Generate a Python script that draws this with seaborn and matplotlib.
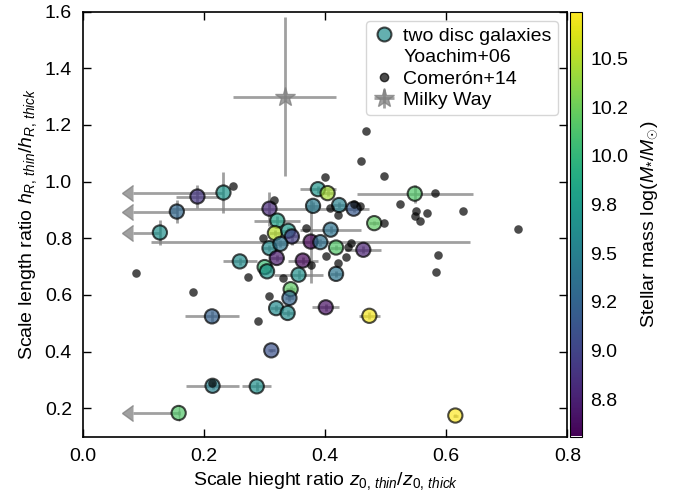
import matplotlib
matplotlib.use('Agg')
import numpy as np
import seaborn as sns
from matplotlib import pyplot as plt
from matplotlib.lines import Line2D
from matplotlib.ticker import FormatStrFormatter
from matplotlib.cm import ScalarMappable
from matplotlib.colors import Normalize

# two disc galaxies (this work)
disc_x = [0.259, 0.232, 0.189, 0.155, 0.127, 0.213, 0.214, 0.287, 0.158, 0.311,
          0.319, 0.338, 0.343, 0.341, 0.401, 0.473, 0.615, 0.388, 0.404, 0.548,
          0.308, 0.380, 0.423, 0.447, 0.481, 0.409, 0.321, 0.317, 0.339, 0.345,
          0.376, 0.392, 0.418, 0.463, 0.308, 0.326, 0.320, 0.363, 0.356, 0.418,
          0.300, 0.304]
disc_y = [0.718, 0.961, 0.947, 0.894, 0.820, 0.524, 0.279, 0.277, 0.183, 0.404,
          0.553, 0.536, 0.620, 0.589, 0.556, 0.526, 0.174, 0.973, 0.959, 0.957,
          0.904, 0.914, 0.917, 0.904, 0.853, 0.830, 0.862, 0.818, 0.826, 0.806,
          0.788, 0.786, 0.767, 0.759, 0.765, 0.780, 0.730, 0.721, 0.671, 0.674,
          0.698, 0.683]
disc_xerr = [0.028, 0.149, 0.036, 0.072, 0.044, 0.044, 0.044, 0.024, 0.075, 0.006,
             0.010, 0.010, 0.008, 0.008, 0.022, 0.017, 0.004, 0.030, 0.010, 0.096,
             0.165, 0.012, 0.012, 0.012, 0.008, 0.051, 0.038, 0.010, 0.010, 0.010,
             0.264, 0.012, 0.010, 0.030, 0.012, 0.012, 0.012, 0.025, 0.041, 0.010,
             0.010, 0.010]
disc_yerr = [0.012, 0.073, 0.041, 0.041, 0.044, 0.020, 0.012, 0.015, 0.008, 0.006,
             0.010, 0.010, 0.010, 0.010, 0.012, 0.012, 0.004, 0.012, 0.010, 0.032,
             0.060, 0.012, 0.012, 0.012, 0.006, 0.012, 0.015, 0.010, 0.012, 0.030,
             0.145, 0.012, 0.010, 0.012, 0.012, 0.012, 0.012, 0.012, 0.015, 0.010,
             0.010, 0.010]
disc_mass = [9.62, 9.70, 8.90, 9.28, 9.65, 9.22, 9.50, 9.65, 10.15, 9.10,
             9.60, 9.62, 10.20, 9.25, 8.65, 10.70, 10.74, 9.70, 10.45, 10.15,
             8.80, 9.45, 9.50, 9.15, 10.20, 9.38, 9.80, 10.50, 9.75, 8.95,
             8.56, 9.35, 10.15, 8.75, 9.60, 9.40, 8.70, 8.60, 9.65, 9.40,
             10.05, 9.70]
# upper limits on the scale height ratio
disc_uplim = [0, 1, 0, 1, 1, 0, 0, 0, 1, 0,
              0, 0, 0, 0, 0, 0, 0, 0, 0, 0,
              0, 0, 0, 0, 0, 0, 0, 0, 0, 0,
              0, 0, 0, 0, 0, 0, 0, 0, 0, 0,
              0, 0]

yoachim_x = [0.088, 0.182, 0.248, 0.272, 0.289, 0.308, 0.315, 0.331, 0.298, 0.368,
             0.399, 0.402, 0.408, 0.422, 0.421, 0.434, 0.437]
yoachim_y = [0.677, 0.611, 0.985, 0.664, 0.506, 0.597, 0.934, 0.659, 0.799, 0.835,
             1.015, 0.738, 0.906, 0.881, 0.712, 0.734, 0.769]

comeron_x = [0.443, 0.458, 0.459, 0.468, 0.498, 0.524, 0.498, 0.581, 0.550, 0.548,
             0.569, 0.557, 0.628, 0.719, 0.587, 0.583, 0.447, 0.376, 0.213]
comeron_y = [0.784, 0.914, 1.073, 1.180, 1.018, 0.921, 0.853, 0.961, 0.897, 0.877,
             0.888, 0.859, 0.897, 0.833, 0.741, 0.679, 0.921, 0.706, 0.289]

mw_x = [0.333]
mw_y = [1.30]
mw_xerr = [0.085]
mw_yerr = [0.28]

mass_ticks = [8.75, 9.0, 9.25, 9.5, 9.75, 10.0, 10.25, 10.5]
vmin, vmax = 8.56, 10.74

sns.set_style('ticks')
plt.rcParams['font.family'] = ['Liberation Sans', 'DejaVu Sans']
plt.rcParams['mathtext.fontset'] = 'custom'
plt.rcParams['mathtext.rm'] = 'Liberation Sans'
plt.rcParams['mathtext.it'] = 'Liberation Sans:italic'
plt.rcParams['font.size'] = 14
for key in ['text.color', 'axes.labelcolor', 'xtick.color', 'ytick.color', 'axes.edgecolor']:
    plt.rcParams[key] = 'black'

fig = plt.figure(figsize=(6.86, 5.0), dpi=100)
ax = fig.add_axes([0.121, 0.127, 0.706, 0.85])
cax = fig.add_axes([0.831, 0.127, 0.017, 0.85])

dx = np.array(disc_x)
dy = np.array(disc_y)
dxe = np.array(disc_xerr)
dye = np.array(disc_yerr)
lim = np.array(disc_uplim) == 1

err_kw = dict(fmt='none', ecolor='gray', color='gray', elinewidth=2, alpha=0.75, zorder=1)
ax.errorbar(dx[~lim], dy[~lim], xerr=dxe[~lim], yerr=dye[~lim], capsize=0, **err_kw)
ax.errorbar(dx[lim], dy[lim], xerr=dxe[lim], xuplims=True, capsize=5.5,
            mfc='gray', mec='gray', **err_kw)
ax.errorbar(dx[lim], dy[lim], yerr=dye[lim], capsize=0, **err_kw)

# Milky Way
ax.errorbar(mw_x, mw_y, xerr=mw_xerr, yerr=mw_yerr, fmt='*', color='gray', ms=15,
            elinewidth=2, alpha=0.75, zorder=2, label='Milky Way')

sns.scatterplot(x=disc_x, y=disc_y, hue=disc_mass, palette='viridis', hue_norm=(vmin, vmax),
                s=105, edgecolor='k', linewidth=1.5, alpha=0.7, legend=False, ax=ax, zorder=3)
sns.scatterplot(x=yoachim_x, y=yoachim_y, color='k', s=38, linewidth=0, alpha=0.7,
                legend=False, ax=ax, zorder=4)
sns.scatterplot(x=comeron_x, y=comeron_y, color='k', s=38, linewidth=0, alpha=0.7,
                legend=False, ax=ax, zorder=4)

ax.set_xlim(0, 0.8)
ax.set_ylim(0.1, 1.6)
ax.set_xticks([0.0, 0.2, 0.4, 0.6, 0.8])
ax.set_yticks([0.2, 0.4, 0.6, 0.8, 1.0, 1.2, 1.4, 1.6])
ax.yaxis.set_major_formatter(FormatStrFormatter('%.1f'))
ax.xaxis.set_major_formatter(FormatStrFormatter('%.1f'))
ax.tick_params(direction='in', length=6, width=1, top=True, right=True, labelsize=14, pad=8)
for sp in ax.spines.values():
    sp.set_linewidth(1.2)
    sp.set_color('k')
ax.set_xlabel(r'Scale hieght ratio $z_{0,\,thin}/z_{0,\,thick}$', fontsize=14)
ax.set_ylabel(r'Scale length ratio $h_{R,\,thin}/h_{R,\,thick}$', fontsize=14)

cmap = plt.get_cmap('viridis')
handles = [
    Line2D([], [], ls='none', marker='o', ms=10, mfc=cmap(Normalize(vmin, vmax)(9.62)),
           mec='k', mew=1.5, alpha=0.7),
    Line2D([], [], ls='none', marker='o', ms=0),
    Line2D([], [], ls='none', marker='o', ms=6, color='k', alpha=0.7),
    ax.get_legend_handles_labels()[0][0],
]
labels = ['two disc galaxies', 'Yoachim+06', 'Comerón+14', 'Milky Way']
ax.legend(handles, labels, loc='upper right', fontsize=14, labelspacing=0.2,
          handletextpad=0.4, borderpad=0.3, handlelength=1.2, borderaxespad=0.5)

cb = fig.colorbar(ScalarMappable(norm=Normalize(vmin, vmax), cmap='viridis'), cax=cax)
cb.set_ticks(mass_ticks)
cb.ax.yaxis.set_major_formatter(FormatStrFormatter('%.1f'))
cb.ax.tick_params(direction='in', length=5, labelsize=14, pad=6, colors='black')
cb.outline.set_edgecolor('black')
cb.set_label(r'Stellar mass log($M_{*}/M_{\odot}$)', fontsize=14, labelpad=8, color='black')

fig.savefig('out.png', dpi=100)
